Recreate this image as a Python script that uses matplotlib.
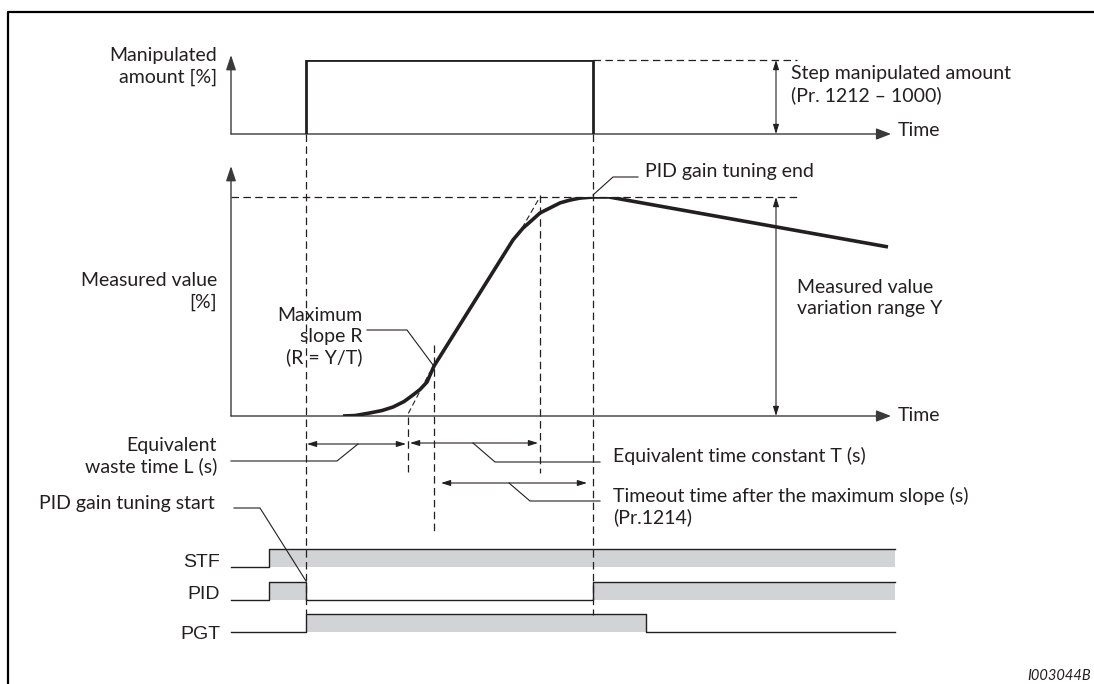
import matplotlib
matplotlib.use("Agg")
import matplotlib.pyplot as plt

plt.rcParams['font.family'] = ['Lato', 'DejaVu Sans']

W, H = 1094, 684
X0 = 231          # pixel column of the time origin (both y axes)

# ---- data (time axis units, 0 = y axes) ----
# manipulated amount step, % of step height
step_t = [75, 75, 362, 362]
step_pct = [0, 100, 100, 0]

# measured value, % of variation range Y
mv_t = [112, 124, 139, 151, 162, 173, 182, 189, 196, 203, 282, 287, 292,
        300, 309, 319, 329, 339, 349, 362, 378, 657]
mv_pct = [0, 0.2, 1.4, 2.5, 4.1, 6.6, 9.6, 12.1, 15.5, 22.8, 80.4, 83.1, 85.8,
          89.0, 92.7, 95.0, 97.3, 98.6, 99.5, 100, 100, 77.2]

# tangent at the maximum slope (two visible dashed pieces)
tan_low_t, tan_low_pct = [165, 199], [-9.6, 20.1]
tan_high_t, tan_high_pct = [291, 317], [85.8, 106.4]

# event times
t_tune_start = 75
t_waste_end = 177
t_max_slope = 203
t_const_end = 309
t_tune_end = 362
t_timeout = 356
t_sig_end = 664

# timing signals (step-post states)
stf_t, stf_v = [0, 38, t_sig_end], [0, 1, 1]
pid_t, pid_v = [0, 38, 75, 362, t_sig_end], [0, 1, 0, 1, 1]
pgt_t, pgt_v = [0, 75, 415, t_sig_end], [0, 1, 0, 0]
signal_names = ['STF', 'PID', 'PGT']

INK = '#231f20'
AXC = '#3a3a3a'
GRAY = '#d1d3d4'

fig = plt.figure(figsize=(W / 100, H / 100), dpi=100)
ax = fig.add_axes([0, 0, 1, 1])
ax.set_xlim(-X0, W - X0)
ax.set_ylim(H, 0)
ax.axis('off')


def overlay(y_zero, y_full):
    a = fig.add_axes([0, (H - y_zero) / H, 1, (y_zero - y_full) / H])
    a.set_xlim(-X0, W - X0)
    a.set_ylim(0, 100)
    a.axis('off')
    a.patch.set_alpha(0)
    return a


ax_up = overlay(134, 60)
ax_mv = overlay(416, 197)

dash = dict(color=INK, lw=0.9, ls=(0, (6, 3.5)))
thin = dict(color=INK, lw=0.8)


def arrow(x1, y1, x2, y2, style='-|>', hl=0.9, hw=0.3, lw=1.0, ms=10, color=AXC):
    ax.annotate('', xy=(x2, y2), xytext=(x1, y1),
                arrowprops=dict(arrowstyle=f'{style},head_length={hl},head_width={hw}',
                                lw=lw, color=color, shrinkA=0, shrinkB=0,
                                mutation_scale=ms))


# frame
ax.plot([8 - X0, 8 - X0, W - X0], [H, 12, 12], color='black', lw=1.6,
        solid_capstyle='butt', clip_on=False)

# axes with arrows
arrow(0, 134, 0, 55)
arrow(0, 134, 660, 134, hw=0.35)
arrow(0, 416, 0, 166)
arrow(0, 416, 660, 416, hw=0.35)

# reference dashed lines
ax.plot([0, 566], [197, 197], **dash)
ax.plot([t_tune_end, 566], [60, 60], **dash)
ax.plot([t_tune_start, t_tune_start], [134, 614], **dash)
ax.plot([t_tune_end, t_tune_end], [134, 615], **dash)
ax.plot([t_waste_end, t_waste_end], [417, 473], **dash)
ax.plot([t_max_slope, t_max_slope], [345, 532], **dash)
ax.plot([t_const_end, t_const_end], [195, 473], **dash)

# step and measured value curves
ax_up.plot(step_t, step_pct, color=INK, lw=2.0, solid_joinstyle='miter')
ax_mv.plot(tan_low_t, tan_low_pct, color=INK, lw=0.8, ls=(0, (5, 3)))
ax_mv.plot(tan_high_t, tan_high_pct, color=INK, lw=0.8, ls=(0, (5, 3)))
ax_mv.plot(mv_t, mv_pct, color=INK, lw=2.6, solid_capstyle='butt',
           solid_joinstyle='round')

# dimension arrows
darrow = dict(style='<|-|>', hl=0.7, hw=0.22, lw=0.8, ms=8, color=INK)
arrow(545, 60, 545, 134, **darrow)
arrow(545, 197, 545, 416, **darrow)
arrow(t_tune_start + 1, 444, t_waste_end - 2, 444, **darrow)
arrow(t_waste_end + 2, 443, t_const_end - 2, 443, **darrow)
arrow(t_max_slope + 7, 483, t_timeout, 483, **darrow)

# leader lines
ax.plot([0, 106, 127], [461, 461, 444], **thin)
ax.plot([242, 264, 369], [443, 462, 462], **thin)
ax.plot([278, 299, 369], [483, 501, 501], **thin)
ax.plot([136, 176, 202], [330, 330, 365], **thin)
ax.plot([362, 382, 407], [195, 177, 177], **thin)
ax.plot([3, 29, 75], [508, 508, 581], **thin)

# timing signals
rows = [(stf_t, stf_v, 567), (pid_t, pid_v, 600), (pgt_t, pgt_v, 632)]
for (ts, vs, base), name in zip(rows, signal_names):
    ys = [base - 18 * v for v in vs]
    ax.fill_between(ts, ys, base, step='post', color=GRAY, lw=0, zorder=0.5)
    ax.step(ts, ys, where='post', color=INK, lw=1.0)

# texts
fs = 14
tk = dict(fontsize=fs, color=INK, va='baseline')
ax.text(-14, 61, 'Manipulated', ha='right', **tk)
ax.text(-14, 83, 'amount [%]', ha='right', **tk)
ax.text(-14, 286, 'Measured value', ha='right', **tk)
ax.text(-14, 308, '[%]', ha='right', **tk)
ax.text(-14, 451, 'Equivalent', ha='right', **tk)
ax.text(-14, 472, 'waste time L (s)', ha='right', **tk)
ax.text(-16, 509, 'PID gain tuning start', ha='right', **tk)
ax.text(131, 321, 'Maximum', ha='right', **tk)
ax.text(131, 342, 'slope R', ha='right', **tk)
ax.text(131, 363, '(R = Y/T)', ha='right', **tk)
ax.text(560, 79, 'Step manipulated amount', ha='left', **tk)
ax.text(560, 101, '(Pr. 1212 \u2013 1000)', ha='left', **tk)
ax.text(667, 136, 'Time', ha='left', **tk)
ax.text(667, 421, 'Time', ha='left', **tk)
ax.text(414, 177, 'PID gain tuning end', ha='left', **tk)
ax.text(566, 293, 'Measured value', ha='left', **tk)
ax.text(566, 314, 'variation range Y', ha='left', **tk)
ax.text(382, 462, 'Equivalent time constant T (s)', ha='left', **tk)
ax.text(382, 502, 'Timeout time after the maximum slope (s)', ha='left', **tk)
ax.text(382, 523, '(Pr.1214)', ha='left', **tk)

sig_y = [567, 599, 639]
for name, y in zip(signal_names, sig_y):
    ax.text(-11, y, name, ha='right', va='baseline', fontsize=14,
            color=INK, family='Liberation Sans')

ax.text(860, 680, 'I003044B', ha='right', va='baseline', fontsize=10.5,
        style='italic', color=INK)

fig.savefig('out.png', dpi=100)
